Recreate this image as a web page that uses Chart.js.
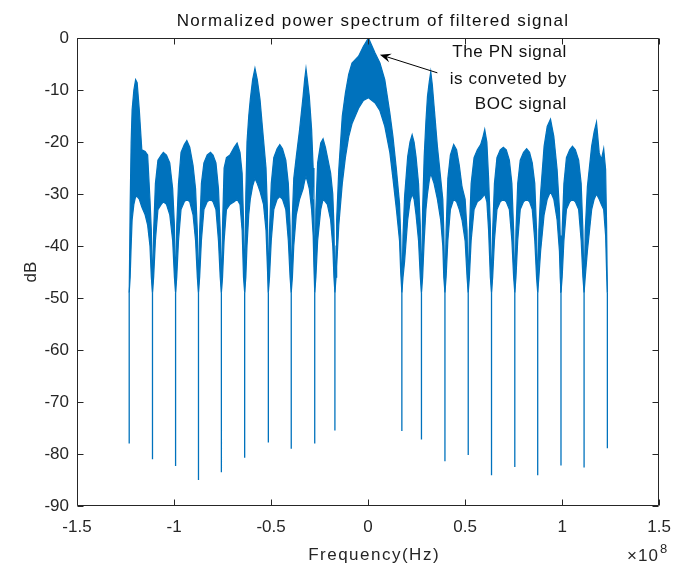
<!DOCTYPE html>
<html lang="en">
<head>
  <meta charset="UTF-8" />
  <title>Normalized power spectrum of filtered signal</title>
  <script src="https://cdn.jsdelivr.net/npm/chart.js"></script>
  <style>
    body { margin: 0; background: #fff; }
    canvas { display: block; }
  </style>
</head>
<body>
  <canvas id="chart" width="682" height="568"></canvas>

  <script>
    // frequency in units of 1e8 Hz (one row per lobe, null first)
    const freq = [
      -1.231, -1.226, -1.221, -1.216, -1.207, -1.198, -1.190, -1.179, -1.166, -1.149, -1.136, -1.124, -1.117,
      -1.111, -1.105, -1.096, -1.083, -1.066, -1.055, -1.039, -1.022, -1.007, -0.998,
      -0.992, -0.986, -0.977, -0.964, -0.947, -0.934, -0.919, -0.902, -0.889, -0.880,
      -0.874, -0.868, -0.859, -0.846, -0.829, -0.812, -0.799, -0.784, -0.771, -0.762,
      -0.756, -0.750, -0.742, -0.730, -0.712, -0.690, -0.675, -0.660, -0.649, -0.642,
      -0.636, -0.630, -0.624, -0.615, -0.607, -0.595, -0.583, -0.571, -0.557, -0.539, -0.526, -0.519,
      -0.514, -0.508, -0.499, -0.486, -0.469, -0.455, -0.441, -0.424, -0.411, -0.402,
      -0.396, -0.390, -0.383, -0.370, -0.353, -0.335, -0.327, -0.320, -0.313, -0.303, -0.291, -0.283, -0.279,
      -0.275, -0.269, -0.260, -0.244, -0.232, -0.220, -0.210, -0.193, -0.182, -0.176,
      -0.171, -0.165, -0.162, -0.151, -0.133, -0.117, -0.100, -0.083, -0.049, -0.024, 0.002,
              0.036, 0.061, 0.086, 0.112, 0.128, 0.146, 0.162, 0.168,
      0.174, 0.180, 0.188, 0.204, 0.216, 0.227, 0.237, 0.247, 0.260, 0.269,
      0.275, 0.281, 0.289, 0.298, 0.306, 0.315, 0.323, 0.331, 0.340, 0.357, 0.374, 0.385, 0.390,
      0.396, 0.402, 0.411, 0.424, 0.441, 0.456, 0.470, 0.484, 0.500, 0.510,
      0.516, 0.522, 0.531, 0.546, 0.563, 0.580, 0.592, 0.601, 0.612, 0.621, 0.630,
      0.636, 0.642, 0.651, 0.664, 0.681, 0.697, 0.712, 0.728, 0.741, 0.750,
      0.756, 0.762, 0.771, 0.784, 0.801, 0.817, 0.832, 0.846, 0.859, 0.868,
      0.874, 0.880, 0.889, 0.907, 0.923, 0.940, 0.957, 0.974, 0.986, 0.990,
      0.994, 1.000, 1.009, 1.022, 1.039, 1.053, 1.068, 1.085, 1.098, 1.107,
      1.113, 1.119, 1.130, 1.152, 1.165, 1.177, 1.191, 1.202, 1.214, 1.224, 1.229,
      1.233
    ];

    // top edge of the noisy spectrum band (dB)
    const upperDb = [
      -49, -32, -20, -13.8, -10, -8, -8.6, -13.8, -21.5, -21.8, -22.5, -31, -37,
      -49, -37, -28, -23.5, -22.5, -22, -22.5, -24, -29, -36,
      -49, -36, -28, -22, -20.5, -19.7, -21, -24.5, -29, -37,
      -49, -37, -28, -24, -22.5, -22, -22.5, -24, -29, -37,
      -49, -36, -25, -23, -22.5, -21, -20.2, -22, -26, -35,
      -49, -30, -20, -15, -11.8, -8, -5.8, -8, -11.8, -19.5, -25, -33,
      -49, -37, -28, -23, -21.3, -20.5, -21.3, -23.5, -28, -36,
      -49, -34, -27, -22.8, -17.6, -11.2, -8, -5.9, -8, -11.2, -17.6, -25, -31,
      -49, -33, -24, -20.2, -19.4, -21, -22.8, -26, -30, -36,
      -49, -40, -35, -25.3, -15, -10.6, -7, -4.8, -3.5, -1.6, 0,
           -2.9, -4.8, -8, -14.4, -18.9, -25.3, -31.8, -38,
      -49, -38, -30.5, -22.8, -20, -18.6, -20, -22.8, -28, -36,
      -49, -33, -22.8, -16, -11.2, -8.5, -6.5, -9, -13.1, -20.8, -27, -31, -37,
      -49, -37, -27, -22.5, -20.5, -21.5, -24.5, -28.6, -31, -37,
      -49, -37, -28, -23, -21.5, -20.5, -19, -17.6, -20, -27, -36,
      -49, -37, -28, -23, -21.5, -21, -21.5, -23.5, -28, -37,
      -49, -37, -28, -23.5, -22, -21.3, -22, -24, -28, -37,
      -49, -37, -29.8, -20.8, -17, -15.6, -18.9, -25.3, -33, -38,
      -49, -37, -28, -23, -21.5, -20.8, -21.5, -23.5, -28, -37,
      -49, -37, -28.6, -20.8, -18, -16.2, -22.1, -23.4, -21.3, -25.3, -36,
      -49
    ];

    // bottom edge of the band (dB)
    const lowerDb = [
      -49, -46, -40, -35, -32, -30.5, -30.5, -31, -32.5, -34, -36, -40, -46,
      -49, -46, -39, -33, -32, -31.5, -32, -34, -39, -46,
      -49, -46, -39, -33, -31.5, -31, -31.5, -34, -39, -46,
      -49, -46, -39, -33, -31.5, -31, -31.5, -33, -39, -46,
      -49, -46, -39, -33, -32, -31.5, -31, -32, -37, -46,
      -49, -46, -40, -34, -31, -28.5, -27, -28, -29.5, -32, -37, -44,
      -49, -46, -39, -33, -31, -30.5, -31, -33, -39, -46,
      -49, -46, -40, -34, -31, -29, -27.5, -26.6, -27.5, -29, -33, -38, -44,
      -49, -46, -39, -33, -31, -31.5, -32, -35, -40, -46,
      -49, -46, -44, -36, -28, -23, -19, -16.5, -13.5, -12, -11.5,
           -12.5, -14, -17, -22, -27, -33, -39, -45,
      -49, -46, -43, -35, -31.5, -30, -31, -34, -39, -46,
      -49, -46, -39, -33, -30, -27.5, -26, -27, -28, -31, -35, -40, -46,
      -49, -46, -39, -33, -31, -31.5, -33, -35, -39, -46,
      -49, -46, -39, -33, -31.5, -31, -30.5, -30, -31.5, -37, -46,
      -49, -46, -39, -33, -31.5, -31, -31.5, -33, -39, -46,
      -49, -46, -39, -33, -31.5, -31, -31.5, -33, -39, -46,
      -49, -46, -41, -34, -31, -29.5, -31, -35, -41, -46,
      -49, -46, -39, -33, -31.5, -31, -31.5, -33, -39, -46,
      -49, -46, -41, -33, -31, -30, -31, -32, -33, -38, -45,
      -49
    ];

    // deep nulls between the lobes
    const nullFreq = [-1.231, -1.111, -0.992, -0.874, -0.756, -0.636, -0.514, -0.396, -0.275, -0.171,
                      0.174, 0.275, 0.396, 0.516, 0.636, 0.756, 0.874, 0.994, 1.113, 1.233];
    const nullDepth = [-78, -81, -82.3, -85, -83.5, -80.7, -77.8, -79, -78, -75.5,
                       -75.6, -77.2, -81.4, -80.2, -84.1, -82.5, -84.1, -82.2, -82.6, -78.9];
    const nullTopDb = -49;

    const xTicks = [-1.5, -1, -0.5, 0, 0.5, 1, 1.5];
    const yTicks = [-90, -80, -70, -60, -50, -40, -30, -20, -10, 0];
    const noteLines = ['The PN signal', 'is conveted by', 'BOC signal'];

    const blue = '#0072BD';
    const axisGray = '#262626';
    const FONT = '"Liberation Sans", Arial, sans-serif';

    const upperPts = freq.map((f, i) => ({ x: f, y: upperDb[i] }));
    const lowerPts = freq.map((f, i) => ({ x: f, y: lowerDb[i] }));
    const spikePts = [];
    nullFreq.forEach((f, i) => {
      spikePts.push({ x: f, y: nullTopDb }, { x: f, y: nullDepth[i] }, { x: f, y: null });
    });

    // box, inward ticks, titles, exponent and the text arrow
    const matlabLook = {
      id: 'matlabLook',
      afterDraw(chart) {
        const { ctx, chartArea: a, scales: { x, y } } = chart;
        const L = Math.round(a.left) + 0.5, R = Math.round(a.right) - 0.5;
        const T = Math.round(a.top) + 0.5, B = Math.round(a.bottom) - 0.5;
        ctx.save();
        ctx.strokeStyle = axisGray;
        ctx.lineWidth = 1;
        ctx.beginPath();
        ctx.rect(L, T, R - L, B - T);
        xTicks.forEach(v => {
          const px = Math.round(x.getPixelForValue(v)) + 0.5;
          ctx.moveTo(px, B); ctx.lineTo(px, B - 6);
          ctx.moveTo(px, T); ctx.lineTo(px, T + 6);
        });
        yTicks.forEach(v => {
          const py = Math.round(y.getPixelForValue(v)) + 0.5;
          ctx.moveTo(L, py); ctx.lineTo(L + 6, py);
          ctx.moveTo(R, py); ctx.lineTo(R - 6, py);
        });
        ctx.stroke();

        // title
        ctx.fillStyle = '#111';
        ctx.font = '17px ' + FONT;
        ctx.letterSpacing = '1.3px';
        ctx.textAlign = 'center';
        ctx.textBaseline = 'alphabetic';
        ctx.fillText('Normalized power spectrum of filtered signal', (a.left + a.right) / 2 + 5, 26);

        // axis labels
        ctx.fillStyle = axisGray;
        ctx.letterSpacing = '1.5px';
        ctx.fillText('Frequency(Hz)', (a.left + a.right) / 2 + 6, 560);
        ctx.letterSpacing = '0px';
        ctx.save();
        ctx.translate(36, (a.top + a.bottom) / 2);
        ctx.rotate(-Math.PI / 2);
        ctx.fillText('dB', 0, 0);
        ctx.restore();

        // x10^8 exponent
        ctx.textAlign = 'left';
        ctx.font = '17px ' + FONT;
        ctx.letterSpacing = '1px';
        ctx.fillText('\u00d710', 627, 561);
        ctx.letterSpacing = '0px';
        ctx.font = '13px ' + FONT;
        ctx.fillText('8', 660, 553);

        // arrow pointing at the main lobe
        const tipX = x.getPixelForValue(0.061), tipY = y.getPixelForValue(-3.2);
        const tailX = x.getPixelForValue(0.357), tailY = y.getPixelForValue(-6.7);
        const ang = Math.atan2(tipY - tailY, tipX - tailX);
        const c = Math.cos(ang), s = Math.sin(ang);
        ctx.strokeStyle = '#000';
        ctx.fillStyle = '#000';
        ctx.beginPath();
        ctx.moveTo(tailX, tailY);
        ctx.lineTo(tipX - 6 * c, tipY - 6 * s);
        ctx.stroke();
        ctx.beginPath();
        ctx.moveTo(tipX, tipY);
        ctx.lineTo(tipX - 11 * c + 4.5 * s, tipY - 11 * s - 4.5 * c);
        ctx.lineTo(tipX - 7 * c, tipY - 7 * s);
        ctx.lineTo(tipX - 11 * c - 4.5 * s, tipY - 11 * s + 4.5 * c);
        ctx.closePath();
        ctx.fill();

        // note text
        ctx.fillStyle = '#111';
        ctx.font = '17px ' + FONT;
        ctx.letterSpacing = '0.6px';
        ctx.textAlign = 'right';
        ctx.textBaseline = 'middle';
        const noteX = x.getPixelForValue(1.024);
        [-2.8, -8.0, -12.8].forEach((v, i) => {
          ctx.fillText(noteLines[i], noteX, y.getPixelForValue(v));
        });
        ctx.restore();
      }
    };

    new Chart(document.getElementById('chart'), {
      type: 'line',
      data: {
        datasets: [
          { label: 'upper', data: upperPts, borderColor: blue, borderWidth: 1.2, pointRadius: 0, fill: false },
          { label: 'lower', data: lowerPts, borderColor: blue, borderWidth: 1.2, pointRadius: 0,
            backgroundColor: blue, fill: '-1' },
          { label: 'nulls', data: spikePts, borderColor: blue, borderWidth: 1.3, pointRadius: 0,
            fill: false, spanGaps: false }
        ]
      },
      options: {
        responsive: false,
        animation: false,
        devicePixelRatio: 1,
        layout: { padding: { top: 38, right: 13, left: 0, bottom: 0 } },
        plugins: { legend: { display: false }, title: { display: false }, tooltip: { enabled: false } },
        elements: { line: { tension: 0 } },
        scales: {
          x: {
            type: 'linear', min: -1.5, max: 1.5,
            afterFit: s => { s.height = 62; },
            afterBuildTicks: s => { s.ticks = xTicks.map(v => ({ value: v })); },
            grid: { display: false, drawTicks: false },
            border: { display: false },
            ticks: {
              color: axisGray, padding: 11, maxRotation: 0, autoSkip: false,
              font: { size: 17, family: FONT },
              callback: v => String(v)
            }
          },
          y: {
            type: 'linear', min: -90, max: 0,
            afterFit: s => { s.width = 77; },
            afterBuildTicks: s => { s.ticks = yTicks.map(v => ({ value: v })); },
            grid: { display: false, drawTicks: false },
            border: { display: false },
            ticks: {
              color: axisGray, padding: 8, autoSkip: false,
              font: { size: 17, family: FONT },
              callback: v => String(v)
            }
          }
        }
      },
      plugins: [matlabLook]
    });
  </script>
</body>
</html>
